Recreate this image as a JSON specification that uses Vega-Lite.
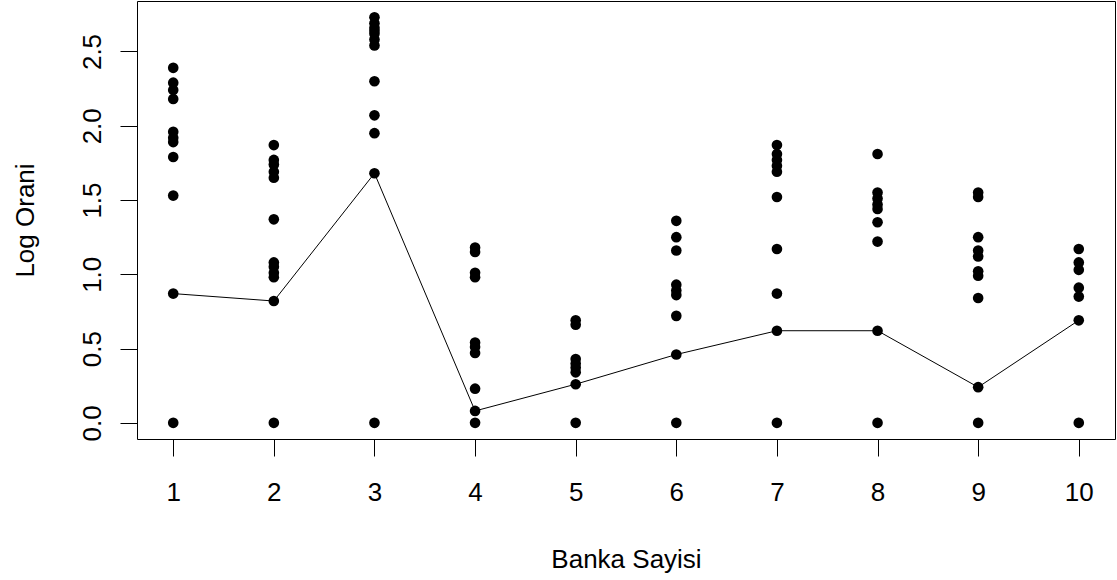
{
  "$schema": "https://vega.github.io/schema/vega-lite/v6.json",
  "autosize": "none",
  "width": 978,
  "height": 438,
  "padding": {"left": 137, "top": 1, "right": 2, "bottom": 141},
  "background": "white",
  "config": {
    "view": {"stroke": "#000000", "strokeWidth": 1},
    "font": "Liberation Sans"
  },
  "data": {
    "values": [
      {"banka": 1, "log": 2.39, "median": false},
      {"banka": 1, "log": 2.29, "median": false},
      {"banka": 1, "log": 2.24, "median": false},
      {"banka": 1, "log": 2.18, "median": false},
      {"banka": 1, "log": 1.96, "median": false},
      {"banka": 1, "log": 1.92, "median": false},
      {"banka": 1, "log": 1.89, "median": false},
      {"banka": 1, "log": 1.79, "median": false},
      {"banka": 1, "log": 1.53, "median": false},
      {"banka": 1, "log": 0.87, "median": true},
      {"banka": 1, "log": 0.0, "median": false},
      {"banka": 2, "log": 1.87, "median": false},
      {"banka": 2, "log": 1.77, "median": false},
      {"banka": 2, "log": 1.74, "median": false},
      {"banka": 2, "log": 1.69, "median": false},
      {"banka": 2, "log": 1.65, "median": false},
      {"banka": 2, "log": 1.37, "median": false},
      {"banka": 2, "log": 1.08, "median": false},
      {"banka": 2, "log": 1.05, "median": false},
      {"banka": 2, "log": 1.01, "median": false},
      {"banka": 2, "log": 0.98, "median": false},
      {"banka": 2, "log": 0.82, "median": true},
      {"banka": 2, "log": 0.0, "median": false},
      {"banka": 3, "log": 2.73, "median": false},
      {"banka": 3, "log": 2.69, "median": false},
      {"banka": 3, "log": 2.66, "median": false},
      {"banka": 3, "log": 2.64, "median": false},
      {"banka": 3, "log": 2.62, "median": false},
      {"banka": 3, "log": 2.58, "median": false},
      {"banka": 3, "log": 2.54, "median": false},
      {"banka": 3, "log": 2.30, "median": false},
      {"banka": 3, "log": 2.07, "median": false},
      {"banka": 3, "log": 1.95, "median": false},
      {"banka": 3, "log": 1.68, "median": true},
      {"banka": 3, "log": 0.0, "median": false},
      {"banka": 4, "log": 1.18, "median": false},
      {"banka": 4, "log": 1.15, "median": false},
      {"banka": 4, "log": 1.01, "median": false},
      {"banka": 4, "log": 0.98, "median": false},
      {"banka": 4, "log": 0.54, "median": false},
      {"banka": 4, "log": 0.51, "median": false},
      {"banka": 4, "log": 0.47, "median": false},
      {"banka": 4, "log": 0.23, "median": false},
      {"banka": 4, "log": 0.08, "median": true},
      {"banka": 4, "log": 0.0, "median": false},
      {"banka": 5, "log": 0.69, "median": false},
      {"banka": 5, "log": 0.66, "median": false},
      {"banka": 5, "log": 0.43, "median": false},
      {"banka": 5, "log": 0.40, "median": false},
      {"banka": 5, "log": 0.37, "median": false},
      {"banka": 5, "log": 0.34, "median": false},
      {"banka": 5, "log": 0.26, "median": true},
      {"banka": 5, "log": 0.0, "median": false},
      {"banka": 6, "log": 1.36, "median": false},
      {"banka": 6, "log": 1.25, "median": false},
      {"banka": 6, "log": 1.16, "median": false},
      {"banka": 6, "log": 0.93, "median": false},
      {"banka": 6, "log": 0.89, "median": false},
      {"banka": 6, "log": 0.86, "median": false},
      {"banka": 6, "log": 0.72, "median": false},
      {"banka": 6, "log": 0.46, "median": true},
      {"banka": 6, "log": 0.0, "median": false},
      {"banka": 7, "log": 1.87, "median": false},
      {"banka": 7, "log": 1.81, "median": false},
      {"banka": 7, "log": 1.77, "median": false},
      {"banka": 7, "log": 1.73, "median": false},
      {"banka": 7, "log": 1.69, "median": false},
      {"banka": 7, "log": 1.52, "median": false},
      {"banka": 7, "log": 1.17, "median": false},
      {"banka": 7, "log": 0.87, "median": false},
      {"banka": 7, "log": 0.62, "median": true},
      {"banka": 7, "log": 0.0, "median": false},
      {"banka": 8, "log": 1.81, "median": false},
      {"banka": 8, "log": 1.55, "median": false},
      {"banka": 8, "log": 1.51, "median": false},
      {"banka": 8, "log": 1.47, "median": false},
      {"banka": 8, "log": 1.44, "median": false},
      {"banka": 8, "log": 1.35, "median": false},
      {"banka": 8, "log": 1.22, "median": false},
      {"banka": 8, "log": 0.62, "median": true},
      {"banka": 8, "log": 0.0, "median": false},
      {"banka": 9, "log": 1.55, "median": false},
      {"banka": 9, "log": 1.52, "median": false},
      {"banka": 9, "log": 1.25, "median": false},
      {"banka": 9, "log": 1.16, "median": false},
      {"banka": 9, "log": 1.12, "median": false},
      {"banka": 9, "log": 1.02, "median": false},
      {"banka": 9, "log": 0.99, "median": false},
      {"banka": 9, "log": 0.84, "median": false},
      {"banka": 9, "log": 0.24, "median": true},
      {"banka": 9, "log": 0.0, "median": false},
      {"banka": 10, "log": 1.17, "median": false},
      {"banka": 10, "log": 1.08, "median": false},
      {"banka": 10, "log": 1.03, "median": false},
      {"banka": 10, "log": 0.91, "median": false},
      {"banka": 10, "log": 0.85, "median": false},
      {"banka": 10, "log": 0.69, "median": true},
      {"banka": 10, "log": 0.0, "median": false}
    ]
  },
  "encoding": {
    "x": {
      "field": "banka",
      "type": "quantitative",
      "scale": {"domain": [0.64, 10.36], "nice": false, "zero": false},
      "axis": {
        "title": "Banka Sayisi",
        "values": [1, 2, 3, 4, 5, 6, 7, 8, 9, 10],
        "format": "d",
        "grid": false,
        "domain": false,
        "ticks": true,
        "tickSize": 17,
        "tickColor": "#000000",
        "tickWidth": 1,
        "labelFontSize": 26,
        "labelColor": "#000000",
        "labelBaseline": "alphabetic",
        "labelPadding": 44,
        "labelFlush": false,
        "labelOverlap": false,
        "titleFontSize": 26,
        "titleFontWeight": "normal",
        "titleColor": "#000000",
        "titleBaseline": "alphabetic",
        "titleAlign": "center",
        "titleX": 489,
        "titleY": 128
      }
    },
    "y": {
      "field": "log",
      "type": "quantitative",
      "scale": {"domain": [-0.109, 2.84], "nice": false, "zero": false},
      "axis": {
        "title": "Log Orani",
        "values": [0, 0.5, 1, 1.5, 2, 2.5],
        "format": ".1f",
        "grid": false,
        "domain": false,
        "tickSize": 17,
        "tickColor": "#000000",
        "tickWidth": 1,
        "labelFontSize": 26,
        "labelColor": "#000000",
        "labelAngle": 270,
        "labelAlign": "center",
        "labelBaseline": "alphabetic",
        "labelPadding": 20,
        "labelFlush": false,
        "labelOverlap": false,
        "titleFontSize": 26,
        "titleFontWeight": "normal",
        "titleColor": "#000000",
        "titleAngle": 270,
        "titleAlign": "center",
        "titleBaseline": "alphabetic",
        "titleX": -104,
        "titleY": 219
      }
    }
  },
  "layer": [
    {
      "transform": [{"filter": "datum.median"}],
      "mark": {"type": "line", "color": "#000000", "strokeWidth": 1},
      "encoding": {"order": {"field": "banka", "type": "quantitative"}}
    },
    {
      "mark": {"type": "circle", "color": "#000000", "opacity": 1, "size": 113},
      "encoding": {}
    }
  ]
}
